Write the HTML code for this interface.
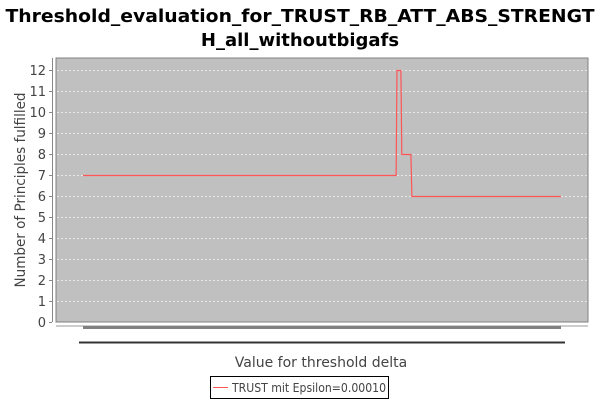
<!DOCTYPE html>
<html><head><meta charset="utf-8"><style>
body{margin:0;background:#fff;}
svg{display:block;font-family:"DejaVu Sans","Liberation Sans",sans-serif;}
</style></head><body>
<svg id="chart" width="600" height="400">
<text x="300" y="22" text-anchor="middle" font-weight="bold" font-size="18" textLength="589" lengthAdjust="spacingAndGlyphs" fill="#000">Threshold_evaluation_for_TRUST_RB_ATT_ABS_STRENGT</text>
<text x="300" y="46" text-anchor="middle" font-weight="bold" font-size="18" fill="#000">H_all_withoutbigafs</text>
<rect x="56" y="58" width="532" height="264" fill="#c0c0c0" stroke="#808080" stroke-width="1"/>
<g id="grid"></g>
<line x1="52.5" y1="58" x2="52.5" y2="322" stroke="#888"/>
<g id="yticks"></g>
<text transform="translate(25,190) rotate(-90)" text-anchor="middle" font-size="14" fill="#444" textLength="195" lengthAdjust="spacingAndGlyphs">Number of Principles fulfilled</text>
<line x1="56" y1="326" x2="588" y2="326" stroke="#999"/>
<line x1="83" y1="327.5" x2="561" y2="327.5" stroke="#808080" stroke-width="3"/>
<line x1="79" y1="342.5" x2="565" y2="342.5" stroke="#333" stroke-width="2"/>
<text x="321" y="367" text-anchor="middle" font-size="14" fill="#444">Value for threshold delta</text>
<path id="series" fill="none" stroke="#ff5555" stroke-width="1.2"/>
<g>
<rect x="210.5" y="376.5" width="178" height="22" fill="#fff" stroke="#000"/>
<line x1="213" y1="387.5" x2="228" y2="387.5" stroke="#ff5555"/>
<text x="232" y="392" font-size="12" fill="#444" textLength="154" lengthAdjust="spacingAndGlyphs">TRUST mit Epsilon=0.00010</text>
</g>
</svg>
<script>
const yTicks=[0,1,2,3,4,5,6,7,8,9,10,11,12];
const xVals=[0,0.655,0.657,0.665,0.667,0.686,0.688,1];
const yVals=[7,7,12,12,8,8,6,6];
const ns="http://www.w3.org/2000/svg";
const sx=v=>83+v*478;
const sy=v=>322-v*21;
const grid=document.getElementById('grid'),yt=document.getElementById('yticks');
yTicks.forEach(t=>{
  const y=Math.round(sy(t))+0.5;
  if(t>0){const g=document.createElementNS(ns,'line');
  g.setAttribute('x1',57);g.setAttribute('x2',587);g.setAttribute('y1',y);g.setAttribute('y2',y);
  g.setAttribute('stroke','#e8e8e8');g.setAttribute('stroke-dasharray','2,2');
  
  
  grid.appendChild(g);}
  const tk=document.createElementNS(ns,'line');
  tk.setAttribute('x1',49);tk.setAttribute('x2',52);tk.setAttribute('y1',y);tk.setAttribute('y2',y);tk.setAttribute('stroke','#888');
  
  
  yt.appendChild(tk);
  const tx=document.createElementNS(ns,'text');
  tx.setAttribute('x',46);tx.setAttribute('y',y+4.5);tx.setAttribute('text-anchor','end');tx.setAttribute('font-size','13');tx.setAttribute('fill','#444');
  tx.textContent=t;
  
  
  yt.appendChild(tx);
});
document.getElementById('series').setAttribute('d',xVals.map((x,i)=>(i?'L':'M')+sx(x).toFixed(1)+','+(sy(yVals[i])+0.5)).join(' '));
</script>
</body></html>
